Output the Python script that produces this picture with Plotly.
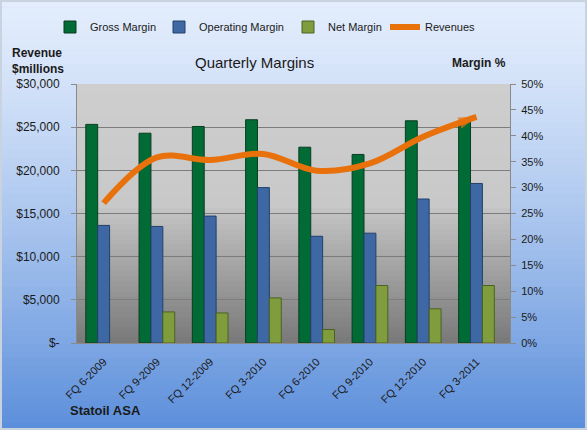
import plotly.graph_objects as go

quarters = ["FQ 6-2009", "FQ 9-2009", "FQ 12-2009", "FQ 3-2010",
            "FQ 6-2010", "FQ 9-2010", "FQ 12-2010", "FQ 3-2011"]
gross_margin = [42.2, 40.5, 41.8, 43.1, 37.8, 36.4, 42.9, 42.7]
operating_margin = [22.7, 22.5, 24.5, 30.0, 20.6, 21.2, 27.8, 30.8]
net_margin = [None, 6.0, 5.8, 8.7, 2.6, 11.1, 6.6, 11.1]
revenues = [16200, 21500, 21200, 21900, 19950, 20800, 23900, 26200]

rev_tickvals = [0, 5000, 10000, 15000, 20000, 25000, 30000]
rev_ticktext = ["$-", "$5,000", "$10,000", "$15,000", "$20,000", "$25,000", "$30,000"]
pct_tickvals = [0, 5, 10, 15, 20, 25, 30, 35, 40, 45, 50]
pct_ticktext = ["0%", "5%", "10%", "15%", "20%", "25%", "30%", "35%", "40%", "45%", "50%"]

W, H = 587, 430
L, R, T, B = 77, 77, 84, 87
PW, PH = W - L - R, H - T - B

def px(x):
    return (x - L) / PW

def py(y):
    return (H - B - y) / PH

def lerp(c1, c2, t):
    return "rgb(%d,%d,%d)" % tuple(round(a + (b - a) * t) for a, b in zip(c1, c2))

shapes = []
# outer background gradient
top_c, bot_c = (226, 236, 252), (92, 143, 219)
n = 60
for i in range(n):
    y0 = H * i / n
    y1 = H * (i + 1) / n + 0.6
    t = (i / (n - 1)) ** 1.3
    shapes.append(dict(type="rect", xref="paper", yref="paper",
                       x0=px(0), x1=px(W), y0=py(y1), y1=py(y0),
                       fillcolor=lerp(top_c, bot_c, t), line_width=0, layer="below"))
# plot area gradient
n2 = 50
for i in range(n2):
    y0 = T + PH * i / n2
    y1 = T + PH * (i + 1) / n2 + 0.6
    f = i / (n2 - 1)
    if f < 0.48:
        c = lerp((206, 206, 206), (200, 200, 200), f / 0.48)
    else:
        c = lerp((196, 196, 196), (122, 122, 122), (f - 0.48) / 0.52)
    shapes.append(dict(type="rect", xref="paper", yref="paper",
                       x0=0, x1=1, y0=py(min(y1, T + PH)), y1=py(y0),
                       fillcolor=c, line_width=0, layer="below"))
# border
shapes.append(dict(type="rect", xref="paper", yref="paper",
                   x0=px(1), x1=px(W - 1), y0=py(H - 1), y1=py(1),
                   line=dict(color="#c9d3e0", width=2), layer="above"))

fig = go.Figure()
fig.add_trace(go.Bar(x=quarters, y=gross_margin, name="Gross Margin", yaxis="y", legendwidth=64,
                     marker=dict(color="#006b35", line=dict(color="#0b3d20", width=1))))
fig.add_trace(go.Bar(x=quarters, y=operating_margin, name="Operating Margin", yaxis="y", legendwidth=84,
                     marker=dict(color="#3d68a4", line=dict(color="#23406a", width=1))))
fig.add_trace(go.Bar(x=quarters, y=net_margin, name="Net Margin", yaxis="y", legendwidth=52,
                     marker=dict(color="#7f9d3c", line=dict(color="#4d6222", width=1))))
sizes = [0] * (len(revenues) - 1) + [19]
fig.add_trace(go.Scatter(x=quarters, y=revenues, name="Revenues", yaxis="y2", legendwidth=50,
                         mode="lines+markers", line=dict(color="#e8710c", width=6, shape="spline"),
                         marker=dict(symbol="arrow", angleref="previous", size=sizes,
                                     color="#e8710c", line=dict(width=0))))

font = "Liberation Sans"
fig.update_layout(
    width=W, height=H,
    margin=dict(l=L, r=R, t=T, b=B),
    paper_bgcolor="#a9c4ef",
    plot_bgcolor="rgba(0,0,0,0)",
    font=dict(family=font, size=11, color="#1a1a1a"),
    barmode="group", bargap=0.33, bargroupgap=0,
    shapes=shapes,
    showlegend=True,
    legend=dict(orientation="h", xref="container", yref="container",
                x=50 / W, xanchor="left", y=1 - 27 / H, yanchor="middle",
                bgcolor="rgba(0,0,0,0)", font=dict(size=11, family=font), itemwidth=30,
                traceorder="normal"),
    xaxis=dict(tickangle=-45, showgrid=False, showline=True, linecolor="#8a8a8a",
               tickfont=dict(size=11, family=font), ticks="", ticklabelstandoff=7),
    yaxis=dict(side="right", range=[0, 50], tickvals=pct_tickvals, ticktext=pct_ticktext,
               showgrid=False, showline=True, linecolor="#8a8a8a", ticks="outside",
               ticklen=5, tickcolor="#8a8a8a", zeroline=False, ticklabelstandoff=3,
               tickfont=dict(size=11, family=font)),
    yaxis2=dict(side="left", overlaying="y", range=[0, 30000], tickvals=rev_tickvals,
                ticktext=rev_ticktext, showgrid=True, gridcolor="#7c7c7c", gridwidth=1,
                showline=True, linecolor="#8a8a8a", ticks="outside", ticklen=5,
                tickcolor="#8a8a8a", zeroline=False, ticklabelstandoff=9,
                tickfont=dict(size=12, family=font)),
    annotations=[
        dict(text="Quarterly Margins", xref="paper", yref="paper", x=px(254), y=py(63),
             xanchor="center", yanchor="middle",
             showarrow=False, font=dict(size=15, family=font, color="#1a1a1a")),
        dict(text="<b>Revenue<br>$millions</b>", xref="paper", yref="paper", x=px(10), y=py(61),
             xanchor="left", yanchor="middle", align="left", showarrow=False,
             font=dict(size=12, family=font, color="#1a1a1a")),
        dict(text="<b>Margin %</b>", xref="paper", yref="paper", x=px(450), y=py(63),
             xanchor="left", yanchor="middle", showarrow=False,
             font=dict(size=12, family=font, color="#1a1a1a")),
        dict(text="<b>Statoil ASA</b>", xref="paper", yref="paper", x=px(68), y=py(410),
             xanchor="left", yanchor="middle", showarrow=False,
             font=dict(size=13, family=font, color="#1a1a1a")),
    ],
)

fig.write_html("out.html")
